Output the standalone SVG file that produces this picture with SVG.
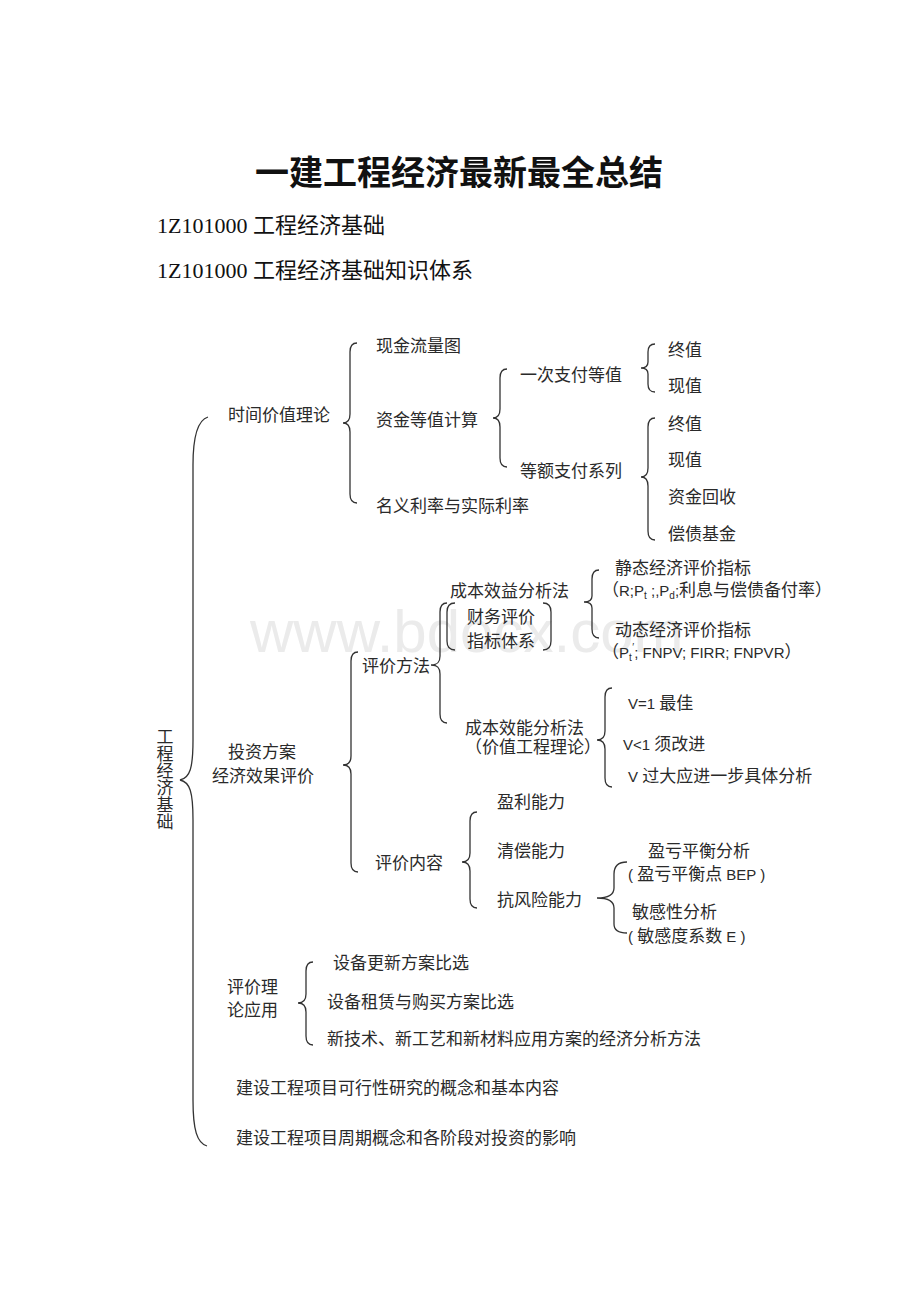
<svg xmlns="http://www.w3.org/2000/svg" width="920" height="1302" viewBox="0 0 920 1302">
<style>
.t{font-family:"Liberation Serif","Noto Sans CJK SC",serif;font-size:17px;fill:#2a2a2a}
.s{font-family:"Liberation Sans","Noto Sans CJK SC",sans-serif;font-size:15px}
.sub{font-size:10px}
.br{fill:none;stroke:#333;stroke-width:1.3}
.wm{font-family:"Liberation Sans",sans-serif;font-size:60px;fill:#ebebeb}
</style>
<rect width="920" height="1302" fill="#fff"/>
<text class="wm" x="250" y="652">www.bdocx.com</text>
<g id="title"><text x="459" y="185" text-anchor="middle" style="font-family:'Liberation Serif','Noto Sans CJK SC',serif;font-size:34px;font-weight:bold;fill:#111">一建工程经济最新最全总结</text></g>
<g id="subtitle1"><text x="157" y="233" style="font-family:'Liberation Serif','Noto Sans CJK SC',serif;font-size:22px;fill:#111">1Z101000 工程经济基础</text></g>
<g id="subtitle2"><text x="157" y="278" style="font-family:'Liberation Serif','Noto Sans CJK SC',serif;font-size:22px;fill:#111">1Z101000 工程经济基础知识体系</text></g>

<g id="connectors">
<path class="br" d="M208 417 C198 420 193 435 193 465 L193 740 C193 768 190 778 180 780 C190 782 193 792 193 820 L193 1100 C193 1130 197 1143 207 1146"/>
<path class="br" d="M357 343 C352 343 350 346 350 352 L350 414 C350 420 348 423 343 423 C348 423 350 426 350 432 L350 494 C350 500 352 503 357 503"/>
<path class="br" d="M507 369 C502 369 500 372 500 378 L500 409 C500 415 498 418 493 418 C498 418 500 421 500 427 L500 458 C500 464 502 467 507 467"/>
<path class="br" d="M655 344 C650 344 648 347 648 352 L648 362 C648 366 646 368 641 368 C646 368 648 370 648 374 L648 384 C648 389 650 392 655 392"/>
<path class="br" d="M655 418 C650 418 648 421 648 427 L648 468 C648 474 646 477 641 477 C646 477 648 480 648 486 L648 531 C648 537 650 540 655 540"/>
<path class="br" d="M358 652 C353 652 351 655 351 661 L351 756 C351 762 349 765 343 765 C349 765 351 768 351 774 L351 863 C351 869 353 872 358 872"/>
<path class="br" d="M447 603 C442 603 440 606 440 612 L440 656 C440 662 438 665 431 665 C438 665 440 668 440 674 L440 714 C440 720 442 723 447 723"/>
<path class="br" d="M455 603 C449 603 447 606 447 612 L447 641 C447 647 449 650 455 650"/>
<path class="br" d="M543 603 C549 603 551 606 551 612 L551 641 C551 647 549 650 543 650"/>
<path class="br" d="M599 570 C594 570 592 573 592 579 L592 596 C592 600 590 602 584 602 C590 602 592 604 592 608 L592 629 C592 635 594 638 599 638"/>
<path class="br" d="M612 688 C607 688 605 691 605 697 L605 731 C605 737 603 740 597 740 C603 740 605 743 605 749 L605 778 C605 784 607 787 612 787"/>
<path class="br" d="M477 812 C472 812 470 815 470 821 L470 853 C470 859 468 862 462 862 C468 862 470 865 470 871 L470 899 C470 905 472 908 477 908"/>
<path class="br" d="M627 862 C619 862 614 866 614 874 L614 888 C614 895 608 898 597 898 C608 898 614 901 614 908 L614 924 C614 930 619 933 627 933"/>
<path class="br" d="M313 962 C308 962 306 965 306 971 L306 994 C306 1000 304 1003 298 1003 C304 1003 306 1006 306 1012 L306 1036 C306 1042 308 1045 313 1045"/>
</g>

<g id="root"><text class="t" text-anchor="middle"><tspan x="165" y="743">工</tspan><tspan x="165" y="760">程</tspan><tspan x="165" y="777">经</tspan><tspan x="165" y="794">济</tspan><tspan x="165" y="811">基</tspan><tspan x="165" y="828">础</tspan></text></g>

<g id="n-time"><text class="t" x="228" y="421">时间价值理论</text></g>
<g id="n-cashflow"><text class="t" x="376" y="352">现金流量图</text></g>
<g id="n-equiv"><text class="t" x="376" y="426">资金等值计算</text></g>
<g id="n-rate"><text class="t" x="376" y="512">名义利率与实际利率</text></g>
<g id="n-once"><text class="t" x="520" y="381">一次支付等值</text></g>
<g id="n-series"><text class="t" x="520" y="477">等额支付系列</text></g>
<g id="n-once-fv"><text class="t" x="668" y="356">终值</text></g>
<g id="n-once-pv"><text class="t" x="668" y="392">现值</text></g>
<g id="n-ser-fv"><text class="t" x="668" y="430">终值</text></g>
<g id="n-ser-pv"><text class="t" x="668" y="466">现值</text></g>
<g id="n-ser-cr"><text class="t" x="668" y="503">资金回收</text></g>
<g id="n-ser-sf"><text class="t" x="668" y="540">偿债基金</text></g>

<g id="n-invest"><text class="t" x="228" y="758">投资方案</text><text class="t" x="212" y="782">经济效果评价</text></g>
<g id="n-method"><text class="t" x="362" y="672">评价方法</text></g>
<g id="n-cba"><text class="t" x="450" y="597">成本效益分析法</text></g>
<g id="n-fin"><text class="t" x="467" y="623">财务评价</text><text class="t" x="467" y="647">指标体系</text></g>
<g id="n-static"><text class="t" x="615" y="574">静态经济评价指标</text><text class="t" x="602" y="596">（<tspan class="s">R;P</tspan><tspan class="s sub" dy="3">t</tspan><tspan class="s" dy="-3"> ;,P</tspan><tspan class="s sub" dy="3">d</tspan><tspan class="s" dy="-3">;</tspan>利息与偿债备付率）</text></g>
<g id="n-dynamic"><text class="t" x="615" y="636">动态经济评价指标</text><text class="t" x="602" y="658">（<tspan class="s">P</tspan><tspan class="s sub" dy="3">t</tspan><tspan class="s sub" dx="0.5" dy="-10">′</tspan><tspan class="s" dy="7">; FNPV; FIRR; FNPVR</tspan>）</text></g>
<g id="n-cea"><text class="t" x="465" y="734">成本效能分析法</text><text class="t" x="465" y="753">（价值工程理论）</text></g>
<g id="n-v1"><text class="t" x="628" y="709"><tspan class="s">V=1 </tspan>最佳</text></g>
<g id="n-vlt1"><text class="t" x="623" y="750"><tspan class="s">V&lt;1 </tspan>须改进</text></g>
<g id="n-vbig"><text class="t" x="628" y="782"><tspan class="s">V </tspan>过大应进一步具体分析</text></g>
<g id="n-content"><text class="t" x="375" y="869">评价内容</text></g>
<g id="n-profit"><text class="t" x="497" y="808">盈利能力</text></g>
<g id="n-solv"><text class="t" x="497" y="857">清偿能力</text></g>
<g id="n-risk"><text class="t" x="497" y="906">抗风险能力</text></g>
<g id="n-bep"><text class="t" x="648" y="857">盈亏平衡分析</text><text class="t" x="628" y="880"><tspan class="s">( </tspan>盈亏平衡点<tspan class="s"> BEP )</tspan></text></g>
<g id="n-sens"><text class="t" x="632" y="918">敏感性分析</text><text class="t" x="628" y="942"><tspan class="s">( </tspan>敏感度系数<tspan class="s"> E )</tspan></text></g>

<g id="n-apply"><text class="t" x="227" y="993">评价理</text><text class="t" x="227" y="1016">论应用</text></g>
<g id="n-renew"><text class="t" x="333" y="969">设备更新方案比选</text></g>
<g id="n-lease"><text class="t" x="327" y="1008">设备租赁与购买方案比选</text></g>
<g id="n-newtech"><text class="t" x="327" y="1045">新技术、新工艺和新材料应用方案的经济分析方法</text></g>
<g id="n-feas"><text class="t" x="236" y="1094">建设工程项目可行性研究的概念和基本内容</text></g>
<g id="n-cycle"><text class="t" x="236" y="1144">建设工程项目周期概念和各阶段对投资的影响</text></g>
</svg>
